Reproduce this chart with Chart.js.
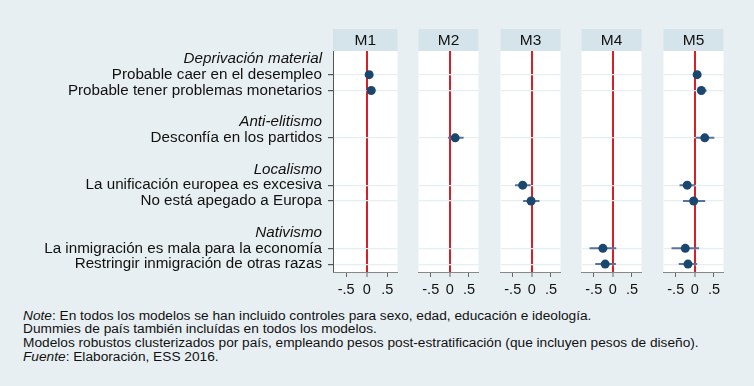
<!DOCTYPE html>
<html>
<head>
<meta charset="utf-8">
<script src="https://cdn.jsdelivr.net/npm/chart.js@4.4.1/dist/chart.umd.min.js"></script>
<style>
  html, body { margin:0; padding:0; background:#e8eff2; }
  body { width:754px; height:386px; position:relative; overflow:hidden; font-family:"Liberation Sans", Arial, sans-serif; }
  canvas { position:absolute; top:0; }
  .foot { position:absolute; left:23px; font-size:13.7px; color:#111; white-space:nowrap; line-height:14px; }
</style>
</head>
<body>
<canvas id="c0"></canvas>
<canvas id="c1"></canvas>
<canvas id="c2"></canvas>
<canvas id="c3"></canvas>
<canvas id="c4"></canvas>
<div class="foot" style="top:309px"><i>Note</i>: En todos los modelos se han incluido controles para sexo, edad, educación e ideología.</div>
<div class="foot" style="top:322px">Dummies de país también incluídas en todos los modelos.</div>
<div class="foot" style="top:336px">Modelos robustos clusterizados por país, empleando pesos post-estratificación (que incluyen pesos de diseño).</div>
<div class="foot" style="top:350px"><i>Fuente</i>: Elaboración, ESS 2016.</div>
<script>
// ---- data ----
const rowLabels = ['Deprivación material','Probable caer en el desempleo','Probable tener problemas monetarios','',
  'Anti-elitismo','Desconfía en los partidos','',
  'Localismo','La unificación europea es excesiva','No está apegado a Europa','',
  'Nativismo','La inmigración es mala para la economía','Restringir inmigración de otras razas'];
const headingRows = [0,4,7,11];
const dataRows = [1,2,5,8,9,12,13];
const models = ['M1','M2','M3','M4','M5'];
const xTickValues = [-0.5, 0, 0.5];
const xTickLabels = ['-.5','0','.5'];

const m1Rows = [1,2];               const m1Coef = [0.06,0.11];  const m1Lo = [0.02,0.01];  const m1Hi = [0.10,0.21];
const m2Rows = [5];                 const m2Coef = [0.14];       const m2Lo = [-0.05];      const m2Hi = [0.36];
const m3Rows = [8,9];               const m3Coef = [-0.24,-0.02];const m3Lo = [-0.44,-0.23];const m3Hi = [-0.03,0.20];
const m4Rows = [12,13];             const m4Coef = [-0.26,-0.20];const m4Lo = [-0.61,-0.46];const m4Hi = [0.09,0.08];
const m5Rows = [1,2,5,8,9,12,13];
const m5Coef = [0.06,0.17,0.26,-0.20,-0.03,-0.25,-0.18];
const m5Lo   = [0.03,0.07,0.02,-0.40,-0.31,-0.61,-0.42];
const m5Hi   = [0.09,0.31,0.51,0.00,0.27,0.11,0.06];

const series = [
  {rows:m1Rows, coef:m1Coef, lo:m1Lo, hi:m1Hi},
  {rows:m2Rows, coef:m2Coef, lo:m2Lo, hi:m2Hi},
  {rows:m3Rows, coef:m3Coef, lo:m3Lo, hi:m3Hi},
  {rows:m4Rows, coef:m4Coef, lo:m4Lo, hi:m4Hi},
  {rows:m5Rows, coef:m5Coef, lo:m5Lo, hi:m5Hi}
];

// ---- layout ----
const FONT = '"Liberation Sans", Arial, sans-serif';
const plotLefts = [333, 414, 496, 577, 659];
const plotW = 69;
const plotTop = 51, headerTop = 29;
const xAxisH = 30;
const canvasH = 272 + xAxisH;

const panelPlugin = {
  id: 'panel',
  beforeDraw(chart, args, opts) {
    const {ctx, chartArea: a} = chart;
    ctx.save();
    ctx.fillStyle = '#ffffff';
    ctx.fillRect(a.left, a.top, a.right - a.left, a.bottom - a.top);
    ctx.fillStyle = '#d5e3eb';
    ctx.fillRect(a.left, headerTop, a.right - a.left, a.top - headerTop);
    ctx.fillStyle = '#111';
    ctx.font = '15.5px ' + FONT;
    ctx.textAlign = 'center';
    ctx.textBaseline = 'middle';
    ctx.fillText(opts.title, (a.left + a.right) / 2, (headerTop + a.top) / 2 + 1);
    ctx.restore();
  }
};

models.forEach((m, i) => {
  const cv = document.getElementById('c' + i);
  const first = i === 0;
  const left = first ? 0 : plotLefts[i];
  const width = first ? plotLefts[0] + plotW : plotW;
  cv.style.left = left + 'px';
  cv.width = width; cv.height = canvasH;
  cv.style.width = width + 'px'; cv.style.height = canvasH + 'px';
  const s = series[i];
  const pts = s.rows.map((r, k) => ({x: s.coef[k], y: r}));
  const ci = [];
  s.rows.forEach((r, k) => { ci.push({x: s.lo[k], y: r}); ci.push({x: s.hi[k], y: r}); ci.push({x: null, y: null}); });

  new Chart(cv, {
    type: 'scatter',
    data: {
      datasets: [
        {data: pts, pointRadius: 4.5, pointBackgroundColor: '#1a476f', pointBorderColor: '#1a476f', pointBorderWidth: 0, order: 1},
        {data: ci, showLine: true, spanGaps: false, pointRadius: 0, borderColor: '#58749a', borderWidth: 2, order: 2}
      ]
    },
    plugins: [panelPlugin],
    options: {
      responsive: false, animation: false, devicePixelRatio: 1,
      layout: {padding: {top: plotTop, left: 0, right: 0, bottom: 0}},
      plugins: {legend: {display: false}, tooltip: {enabled: false}, panel: {title: m}},
      scales: {
        x: {
          type: 'linear', min: -0.82, max: 0.75,
          afterBuildTicks: sc => { sc.ticks = xTickValues.map(v => ({value: v})); },
          afterFit: sc => { sc.height = xAxisH; },
          ticks: {
            autoSkip: false, maxRotation: 0, padding: 4, color: '#111',
            font: {family: FONT, size: 14.5},
            callback: (v, idx) => xTickLabels[idx]
          },
          grid: {
            color: c => (c.tick && c.tick.value === 0) ? '#d61f26' : 'rgba(0,0,0,0)',
            lineWidth: c => (c.tick && c.tick.value === 0) ? 2 : 1,
            tickColor: '#666', tickWidth: 1, tickLength: 5, drawTicks: true
          },
          border: {display: true, color: '#888', width: 1}
        },
        y: {
          type: 'linear', min: -0.5, max: 13.5, reverse: true,
          afterBuildTicks: sc => { sc.ticks = rowLabels.map((_, r) => ({value: r})); },
          afterFit: sc => { sc.width = first ? plotLefts[0] : 0; },
          ticks: {
            display: first, autoSkip: false, padding: 6, color: '#111',
            font: c => ({family: FONT, size: 15.2, style: headingRows.includes(c.index) ? 'italic' : 'normal'}),
            callback: v => rowLabels[v]
          },
          grid: {
            color: c => (c.tick && dataRows.includes(c.tick.value)) ? '#e7eef2' : 'rgba(0,0,0,0)',
            lineWidth: 1.2,
            tickColor: c => (c.tick && dataRows.includes(c.tick.value)) ? '#555' : 'rgba(0,0,0,0)',
            tickLength: 5, drawTicks: first
          },
          border: {display: first, color: '#555', width: 1}
        }
      }
    }
  });
});
</script>
</body>
</html>
